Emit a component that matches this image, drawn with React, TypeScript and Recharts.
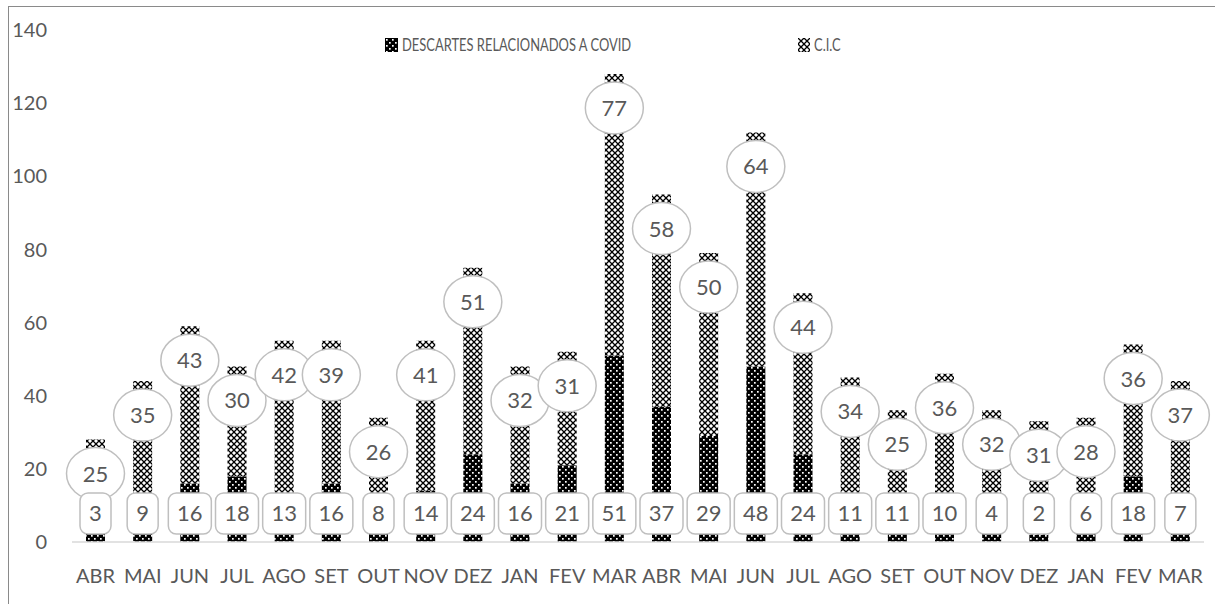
import { BarChart, Bar, XAxis, YAxis, LabelList } from 'recharts';

const months = [
  'ABR', 'MAI', 'JUN', 'JUL', 'AGO', 'SET', 'OUT', 'NOV', 'DEZ', 'JAN', 'FEV', 'MAR',
  'ABR', 'MAI', 'JUN', 'JUL', 'AGO', 'SET', 'OUT', 'NOV', 'DEZ', 'JAN', 'FEV', 'MAR',
];
const descartes = [3, 9, 16, 18, 13, 16, 8, 14, 24, 16, 21, 51, 37, 29, 48, 24, 11, 11, 10, 4, 2, 6, 18, 7];
const cic = [25, 35, 43, 30, 42, 39, 26, 41, 51, 32, 31, 77, 58, 50, 64, 44, 34, 25, 36, 32, 31, 28, 36, 37];
const yTicks = [0, 20, 40, 60, 80, 100, 120, 140];

const data = months.map((month, i) => ({ month, descartes: descartes[i], cic: cic[i] }));

const FONT = 'Lato, Carlito, Calibri, sans-serif';
const TEXT = '#595959';
const OUTLINE = '#bfbfbf';

const Patterns = () => (
  <defs>
    <pattern id="dots" width="6" height="6" patternUnits="userSpaceOnUse">
      <rect width="6" height="6" fill="#000" />
      <rect x="1" y="1" width="1.7" height="1.7" fill="#fff" />
      <rect x="4" y="4" width="1.7" height="1.7" fill="#fff" />
    </pattern>
    <pattern id="cross" width="6" height="6" patternUnits="userSpaceOnUse">
      <rect width="6" height="6" fill="#fff" />
      <path d="M0,0 L6,6 M6,0 L0,6" stroke="#000" strokeWidth="1.3" />
      <rect x="2.3" y="2.3" width="1.4" height="1.4" fill="#000" />
    </pattern>
  </defs>
);

// oval callout near the top of each C.I.C segment
const CicLabel = (props: any) => {
  const { x, y, width, value } = props;
  const cx = Number(x) + Number(width) / 2;
  const cy = Number(y) + 34;
  return (
    <g>
      <ellipse cx={cx} cy={cy} rx={29} ry={26} fill="#fff" stroke={OUTLINE} strokeWidth={1.5} />
      <text x={cx} y={cy + 8} textAnchor="middle" fontSize={22} fontFamily={FONT} fill={TEXT}>
        {value}
      </text>
    </g>
  );
};

// rounded box sitting on the base of the stack, drawn after both series
const DescartesLabel = (props: any) => {
  const { x, y, width, height, index, value } = props;
  const h = Number(height);
  const base = Number(y) + h + (descartes[index] / cic[index]) * h;
  const cx = Number(x) + Number(width) / 2;
  const cy = base - 29;
  const w = String(value).length > 1 ? 43 : 31;
  return (
    <g>
      <rect x={cx - w / 2} y={cy - 20} width={w} height={41} rx={8} fill="#fff" stroke={OUTLINE} strokeWidth={1.5} />
      <text x={cx} y={cy + 8} textAnchor="middle" fontSize={22} fontFamily={FONT} fill={TEXT}>
        {value}
      </text>
    </g>
  );
};

const Swatch = ({ fill, w }: { fill: string; w: number }) => (
  <svg width={w} height={14} style={{ display: 'block' }}>
    <Patterns />
    <rect width={w} height={14} fill={fill} />
  </svg>
);

// narrow legend lettering
const legendText = {
  position: 'absolute' as const,
  top: 34,
  fontSize: 17,
  color: TEXT,
  lineHeight: '22px',
  whiteSpace: 'nowrap' as const,
  transform: 'scaleX(0.76)',
  transformOrigin: 'left center',
};

export default function App() {
  return (
    <div style={{ position: 'absolute', left: 0, top: 0, width: 1215, height: 604, background: '#fff', fontFamily: FONT }}>
      {/* outer frame */}
      <div
        style={{
          position: 'absolute',
          left: 8,
          top: 6,
          width: 1220,
          height: 610,
          borderLeft: '1.5px solid #8a8a8a',
          borderTop: '1.5px solid #8a8a8a',
        }}
      />
      <BarChart
        width={1215}
        height={604}
        data={data}
        margin={{ top: 30, right: 11, bottom: 0, left: 0 }}
        barSize={19}
        style={{ position: 'absolute', left: 0, top: 0 }}
      >
        <Patterns />
        <XAxis
          dataKey="month"
          interval={0}
          height={62}
          tickLine={false}
          tickSize={0}
          tickMargin={27}
          axisLine={{ stroke: '#d9d9d9', strokeWidth: 1.5 }}
          tick={{ fill: TEXT, fontSize: 20, fontFamily: FONT }}
        />
        <YAxis
          width={72}
          domain={[0, 140]}
          ticks={yTicks}
          axisLine={false}
          tickLine={false}
          tickSize={0}
          tickMargin={25}
          tick={{ fill: TEXT, fontSize: 20, fontFamily: FONT }}
        />
        <Bar dataKey="descartes" stackId="a" fill="url(#dots)" isAnimationActive={false} />
        <Bar dataKey="cic" stackId="a" fill="url(#cross)" isAnimationActive={false}>
          <LabelList dataKey="cic" content={CicLabel} />
          <LabelList dataKey="descartes" content={DescartesLabel} />
        </Bar>
      </BarChart>
      {/* legend */}
      <div style={{ position: 'absolute', left: 385, top: 38 }}>
        <Swatch fill="url(#dots)" w={13} />
      </div>
      <div style={{ ...legendText, left: 402 }}>DESCARTES RELACIONADOS A COVID</div>
      <div style={{ position: 'absolute', left: 798, top: 38 }}>
        <Swatch fill="url(#cross)" w={12} />
      </div>
      <div style={{ ...legendText, left: 814 }}>C.I.C</div>
    </div>
  );
}
